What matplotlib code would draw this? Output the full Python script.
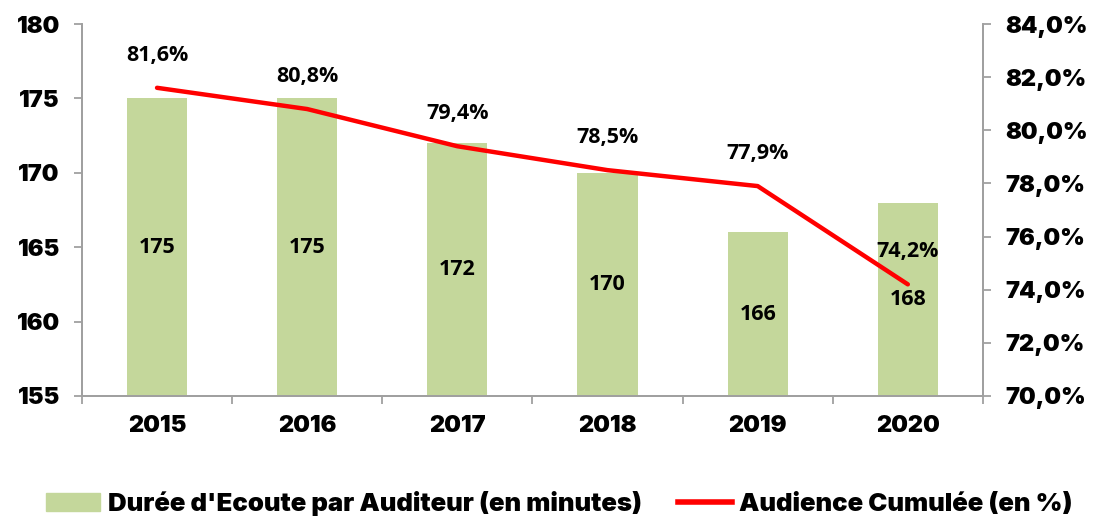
import matplotlib
matplotlib.use("Agg")
import matplotlib.pyplot as plt
import numpy as np
from matplotlib.patches import Patch
from matplotlib.lines import Line2D

# Data
years = ["2015", "2016", "2017", "2018", "2019", "2020"]
duree = [175, 175, 172, 170, 166, 168]          # minutes, left axis
audience = [81.6, 80.8, 79.4, 78.5, 77.9, 74.2]  # percent, right axis

BAR_COLOR = "#C4D79B"
LINE_COLOR = "#FF0000"
AXIS_COLOR = "#A0A0A0"
AXIS_FONT = "Inter"
LABEL_FONT = "Open Sans"

fig = plt.figure(figsize=(10.97, 5.23), dpi=100)
ax = fig.add_axes([0.0747, 0.243, 0.8213, 0.711])
ax2 = ax.twinx()

x = np.arange(len(years))
ax.bar(x, [d - 155 for d in duree], bottom=155, width=0.4, color=BAR_COLOR, zorder=2)
for xi, d in zip(x, duree):
    ax.text(xi, (155 + d) / 2, str(d), ha="center", va="center",
            fontsize=15.5, fontweight="bold", family=LABEL_FONT, color="black", zorder=5)

ax.set_ylim(155, 180)
ax.set_yticks(range(155, 181, 5))
ax.set_xlim(-0.5, len(years) - 0.5)
ax.set_xticks(x)
ax.set_xticklabels(years)
ax.set_xticks(np.arange(-0.5, len(years)), minor=True)
ax.tick_params(axis="x", which="major", length=0, pad=14)
ax.tick_params(axis="x", which="minor", length=6, color=AXIS_COLOR, width=1.3)
ax.tick_params(axis="y", length=6, color=AXIS_COLOR, width=1.3, pad=10)

ax2.plot(x, audience, color=LINE_COLOR, lw=3.2, zorder=4, solid_capstyle="round")
for xi, a in zip(x, audience):
    ax2.annotate(f"{a:.1f}%".replace(".", ","), (xi, a), xytext=(0, 16),
                 textcoords="offset points", ha="center", va="bottom",
                 fontsize=15.5, fontweight="bold", family=LABEL_FONT, color="black")
ax2.set_ylim(70, 84)
ax2.set_yticks(np.arange(70, 84.1, 2))
ax2.set_yticklabels([f"{v:.1f}%".replace(".", ",") for v in np.arange(70, 84.1, 2)])
ax2.tick_params(axis="y", length=6, color=AXIS_COLOR, width=1.3, pad=10)

for a in (ax, ax2):
    a.spines["top"].set_visible(False)
    for s in ("left", "right", "bottom"):
        a.spines[s].set_color(AXIS_COLOR)
        a.spines[s].set_linewidth(1.3)
    for lab in a.get_xticklabels() + a.get_yticklabels():
        lab.set_family(AXIS_FONT)
        lab.set_fontweight("black")
        lab.set_fontsize(17)

ax.set_zorder(ax2.get_zorder() - 1)
ax2.patch.set_visible(False)

handles = [Patch(color=BAR_COLOR), Line2D([0], [0], color=LINE_COLOR, lw=4)]
labels = ["Durée d'Ecoute par Auditeur (en minutes)", "Audience Cumulée (en %)"]
fig.legend(handles, labels, loc="lower center", bbox_to_anchor=(0.51, -0.03), ncol=2,
           frameon=False, handlelength=2.1, handleheight=0.7, handletextpad=0.3,
           columnspacing=1.4, prop={"family": AXIS_FONT, "weight": "black", "size": 18.5})

fig.savefig("out.png", dpi=100)
